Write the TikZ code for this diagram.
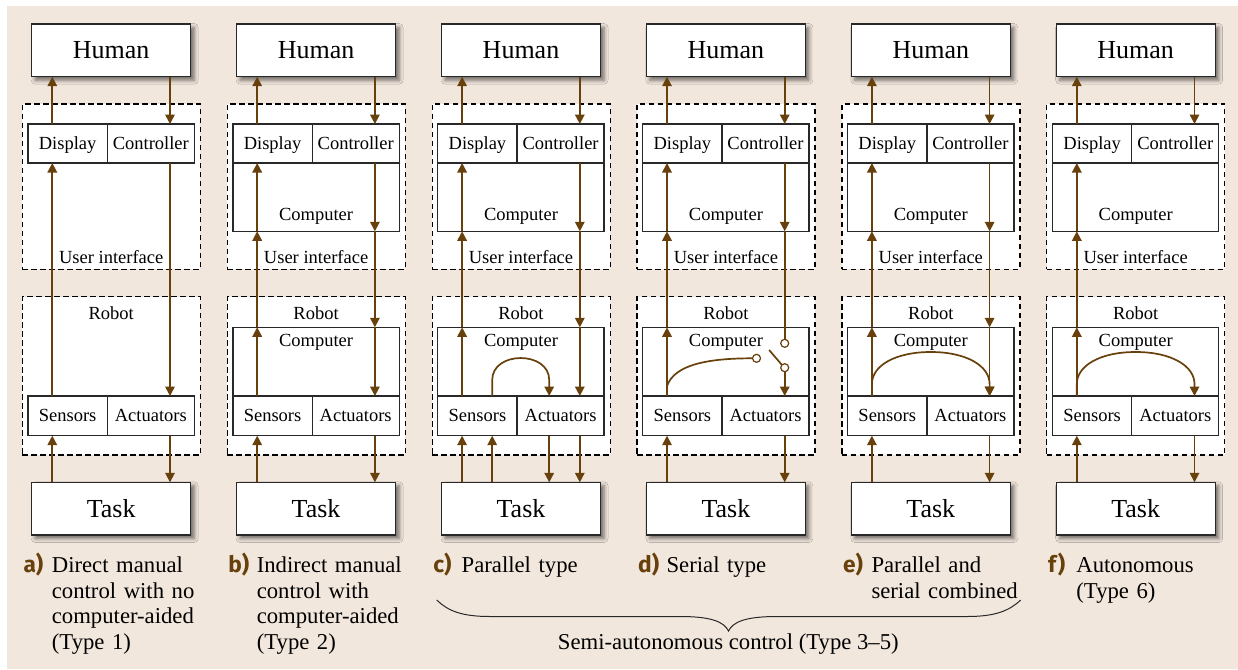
\documentclass[tikz,border=0pt]{standalone}
\usepackage{fontspec}
\setmainfont{Liberation Serif}
\newfontfamily\labfont{Fira Sans}
\usetikzlibrary{arrows.meta,shadows.blur}
\definecolor{bgc}{RGB}{242,231,221}
\definecolor{brn}{RGB}{104,64,12}
\definecolor{bdr}{RGB}{40,40,40}
\newcommand\bigf{\fontsize{26}{30}\selectfont}
\newcommand\smf{\fontsize{18.5}{22}\selectfont}
\newcommand\capf{\fontsize{22.7}{25.5}\selectfont}
\tikzset{
 bx/.style={draw=bdr,line width=1.3pt,fill=white,inner sep=0pt,outer sep=0pt,font=\smf,text height=12.2pt,text depth=0pt},
 bigbx/.style={bx,font=\bigf,text height=17.2pt,minimum width=159pt,minimum height=52.7pt,
   blur shadow={shadow xshift=3.5pt,shadow yshift=-3.5pt,shadow blur radius=4pt,shadow opacity=55}},
 dbx/.style={draw=black,line width=1.2pt,dash pattern=on 5.5pt off 3.5pt,fill=white,minimum width=178pt,inner sep=0pt,outer sep=0pt},
 arr/.style={draw=brn,line width=1.7pt,-{Triangle[width=9.5pt,length=9.5pt]}},
 ln/.style={draw=brn,line width=1.7pt},
 txt/.style={font=\smf,inner sep=0pt,anchor=base},
 capt/.style={font=\capf,inner sep=0pt,anchor=base west,text width=175pt,align=left},
 lab/.style={font=\labfont\capf\bfseries,text=brn,inner sep=0pt,anchor=base west},
 sw/.style={circle,draw=brn,line width=1.2pt,fill=white,minimum size=8pt,inner sep=0pt,outer sep=0pt},
}
% common parts of a panel: #1 prefix, #2 xshift, #3 letter, #4 caption, #5 extras
\newcommand\panel[5]{%
\begin{scope}[xshift=#2pt]
 \node[dbx,minimum height=165.3pt] (#1U) at (111.3,186.65) {};
 \node[dbx,minimum height=158.3pt] (#1R) at (111.3,375.85) {};
 \node[bigbx] (#1H) at (111.2,50.35) {Human};
 \node[bigbx] (#1T) at (111.2,508.65) {Task};
 \node[bx,minimum width=79.3pt,minimum height=39pt] (#1D) at (67.65,143.5) {Display};
 \node[bx,minimum width=87pt,minimum height=39pt] (#1C) at (150.8,143.5) {Controller};
 \node[bx,minimum width=79.3pt,minimum height=39.7pt] (#1S) at (67.65,415.85) {Sensors};
 \node[bx,minimum width=87pt,minimum height=39.7pt] (#1A) at (150.8,415.85) {Actuators};
 \node[txt] (#1UT) at (111.2,263.3) {User interface};
 \node[txt] (#1RT) at (111.2,319.3) {Robot};
 \coordinate (#1L) at (52.3,0);
 \coordinate (#1RR) at (170,0);
 \draw[arr] (#1D.north -| #1L) -- (#1H.south -| #1L);
 \draw[arr] (#1H.south -| #1RR) -- (#1C.north -| #1RR);
 \draw[arr] (#1T.north -| #1L) -- (#1S.south -| #1L);
 \draw[arr] (#1A.south -| #1RR) -- (#1T.north -| #1RR);
 \node[lab] (#1lab) at (23.3,572.5) {#3};
 \node[capt] (#1cap) at (51.7,572.5) {#4};
 #5
\end{scope}}
\newcommand\comps[1]{%
 \node[bx,minimum width=166.3pt,minimum height=68.3pt] (#1UC) at (111.15,197.15) {};
 \node[bx,minimum width=166.3pt,minimum height=68.7pt] (#1RC) at (111.15,361.65) {};
 \node[txt] (#1UCT) at (111.2,220.7) {Computer};
 \node[txt] (#1RCT) at (111.2,346) {Computer};}
\newcommand\leftchain[1]{%
 \draw[arr] (#1S.north -| #1L) -- (#1RC.north -| #1L);
 \draw[arr] (#1RC.north -| #1L) -- (#1UC.south -| #1L);
 \draw[arr] (#1UC.south -| #1L) -- (#1D.south -| #1L);}
\newcommand\rightchain[1]{%
 \draw[arr] (#1C.south -| #1RR) -- (#1UC.south -| #1RR);
 \draw[arr] (#1UC.south -| #1RR) -- (#1RC.north -| #1RR);
 \draw[arr] (#1RC.north -| #1RR) -- (#1A.north -| #1RR);}
\newcommand\bigarc[1]{%
 \draw[arr] (#1S.north -| #1L) -- (52.3,384) .. controls (52.3,366) and (75,352) .. (111.2,352)
   .. controls (147,352) and (170,366) .. (170,384) -- (#1A.north -| #1RR);}
\begin{document}
\begin{tikzpicture}[x=1pt,y=-1pt]
\useasboundingbox (0,0) rectangle (1238,669);
\fill[white] (0,0) rectangle (1238,669);
\fill[bgc] (7,6) rectangle (1238,669);
% a
\panel{a}{0}{a)}{Direct manual\\control with no\\computer-aided\\(Type 1)}{%
 \draw[arr] (aS.north -| aL) -- (aD.south -| aL);
 \draw[arr] (aC.south -| aRR) -- (aA.north -| aRR);}
% b
\panel{b}{204.9}{b)}{Indirect manual\\control with\\computer-aided\\(Type 2)}{%
 \comps{b}\leftchain{b}\rightchain{b}}
% c
\panel{c}{409.8}{c)}{Parallel type}{%
 \comps{c}\leftchain{c}\rightchain{c}
 \coordinate (cL2) at (82.4,0);
 \coordinate (cR2) at (139.4,0);
 \draw[arr] (cS.north -| cL2) -- (82.4,380) .. controls (82.4,350.7) and (139.4,350.7) .. (139.4,380) -- (cA.north -| cR2);
 \draw[arr] (cT.north -| cL2) -- (cS.south -| cL2);
 \draw[arr] (cA.south -| cR2) -- (cT.north -| cR2);}
% d
\panel{d}{614.7}{d)}{Serial type}{%
 \comps{d}\leftchain{d}
 \draw[arr] (dC.south -| dRR) -- (dUC.south -| dRR);
 \node[sw] (dSw1) at (170,343.3) {};
 \node[sw] (dSw2) at (170,367.7) {};
 \node[sw] (dSw0) at (141.8,358.3) {};
 \coordinate (dCs) at (52.3,386);
 \coordinate (dLv) at (154.4,350);
 \draw[ln] (dUC.south -| dRR) -- (dSw1.north);
 \draw[arr] (dSw2.south) -- (dA.north -| dRR);
 \draw[ln] (dCs) .. controls (60,364) and (95,358.3) .. (dSw0.west);
 \draw[ln] (dLv) -- (dSw2.north west);}
% e
\panel{e}{819.6}{e)}{Parallel and\\serial combined}{%
 \comps{e}\leftchain{e}\rightchain{e}\bigarc{e}}
% f
\panel{f}{1024.5}{f)}{Autonomous\\(Type 6)}{%
 \comps{f}\leftchain{f}\bigarc{f}}
% brace
\coordinate (brL) at (436.7,600);
\coordinate (brR) at (1020.7,600);
\coordinate (brT) at (728.5,631);
\draw[bdr,line width=1pt] (brL) .. controls (448,611) and (462,616.5) .. (490,616.5) -- (680,616.5)
  .. controls (712,616.5) and (724,622) .. (brT)
  .. controls (733,622) and (745,616.5) .. (777,616.5) -- (967,616.5)
  .. controls (995,616.5) and (1009,611) .. (brR);
\node[font=\capf,inner sep=0pt,anchor=base] (semi) at (728.3,649.3) {Semi-autonomous control (Type 3–5)};
\end{tikzpicture}
\end{document}
